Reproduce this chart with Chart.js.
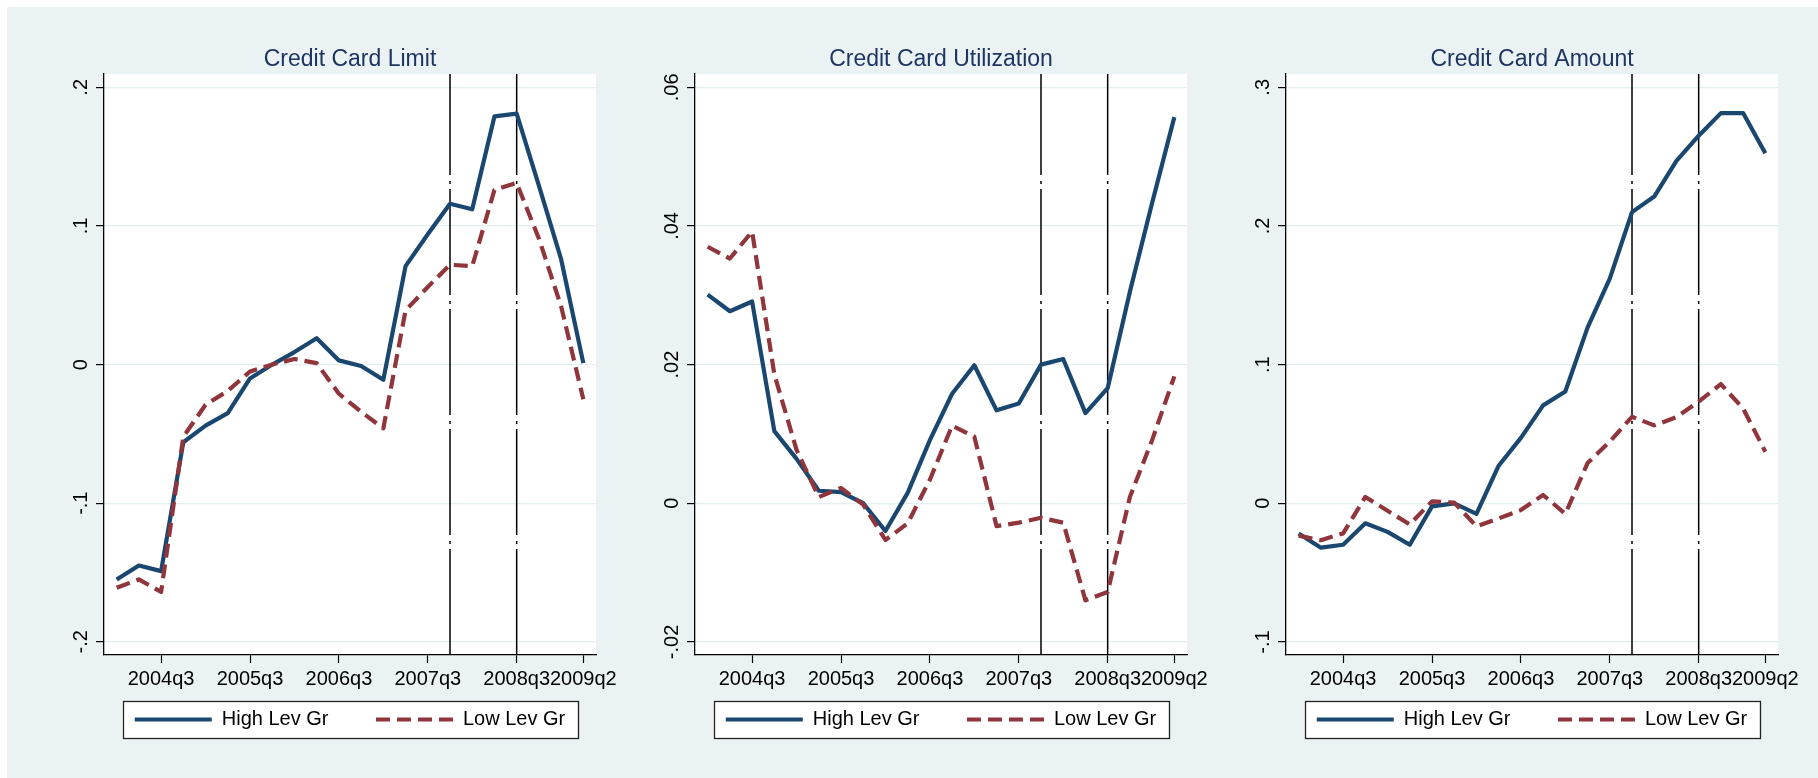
<!DOCTYPE html>
<html>
<head>
<meta charset="utf-8">
<script src="https://cdn.jsdelivr.net/npm/chart.js"></script>
<style>
  html, body { margin: 0; padding: 0; background: #ffffff; width: 1818px; height: 778px; overflow: hidden; }
  #bg { position: absolute; left: 7px; top: 7px; width: 1811px; height: 771px; background: #eaf2f3; }
  canvas { position: absolute; top: 0; }
</style>
</head>
<body>
<div id="bg"></div>
<canvas id="c1" width="580" height="778" style="left:60px"></canvas>
<canvas id="c2" width="580" height="778" style="left:651px"></canvas>
<canvas id="c3" width="580" height="778" style="left:1242px"></canvas>
<script>
// ---------------- data ----------------
const quarters = ['2004q1','2004q2','2004q3','2004q4','2005q1','2005q2','2005q3','2005q4',
                  '2006q1','2006q2','2006q3','2006q4','2007q1','2007q2','2007q3','2007q4',
                  '2008q1','2008q2','2008q3','2008q4','2009q1','2009q2'];
const xTickQuarters = ['2004q3','2005q3','2006q3','2007q3','2008q3','2009q2'];
const eventQuarters = ['2007q4','2008q3'];
const seriesNames = ['High Lev Gr','Low Lev Gr'];
const panelTitles = ['Credit Card Limit','Credit Card Utilization','Credit Card Amount'];

const limitHigh = [-0.155,-0.145,-0.149,-0.056,-0.044,-0.035,-0.010,0.000,0.009,0.019,0.003,-0.001,
                   -0.011,0.071,0.094,0.116,0.112,0.179,0.181,0.129,0.076,0.001];
const limitLow  = [-0.161,-0.155,-0.164,-0.052,-0.029,-0.019,-0.005,0.000,0.004,0.001,-0.021,-0.034,
                   -0.046,0.039,0.056,0.072,0.071,0.126,0.131,0.091,0.042,-0.025];

const utilHigh  = [0.0301,0.0277,0.0291,0.0104,0.0064,0.0018,0.0016,0.0000,-0.0040,0.0015,0.0091,0.0158,
                   0.0199,0.0134,0.0144,0.0200,0.0208,0.0130,0.0166,0.0305,0.0433,0.0557];
const utilLow   = [0.0370,0.0353,0.0392,0.0186,0.0077,0.0009,0.0022,-0.0002,-0.0053,-0.0029,0.0034,0.0112,
                   0.0096,-0.0033,-0.0028,-0.0021,-0.0028,-0.0140,-0.0128,0.0009,0.0091,0.0183];

const amountHigh = [-0.0217,-0.0320,-0.0299,-0.0144,-0.0206,-0.0299,-0.0022,0.0000,-0.0076,0.0271,0.0472,0.0706,
                    0.0806,0.1267,0.1620,0.2100,0.2212,0.2469,0.2651,0.2814,0.2814,0.2524];
const amountLow  = [-0.0233,-0.0266,-0.0217,0.0046,-0.0054,-0.0152,0.0014,0.0005,-0.0166,-0.0109,-0.0049,0.0060,
                    -0.0076,0.0290,0.0445,0.0624,0.0562,0.0621,0.0733,0.0860,0.0684,0.0372];

const limitTicks = [-0.2,-0.1,0,0.1,0.2];
const limitTickLabels = ['-.2','-.1','0','.1','.2'];
const utilTicks = [-0.02,0,0.02,0.04,0.06];
const utilTickLabels = ['-.02','0','.02','.04','.06'];
const amountTicks = [-0.1,0,0.1,0.2,0.3];
const amountTickLabels = ['-.1','0','.1','.2','.3'];

// ---------------- style ----------------
const FONT = '"Liberation Sans", Arial, Helvetica, sans-serif';
const NAVY = '#1a476f';
const MAROON = '#90353b';
const GRID = '#e4edf0';
const LEGEND_PAD = 47.5;
const LEGEND_FONT = 20;
const LEGEND_SHIFT = 30;
const LINE_W = 4.2;

Chart.defaults.font.family = FONT;

function widestLabel(labels) {
  const c = document.createElement('canvas').getContext('2d');
  c.font = '20px ' + FONT;
  return Math.max(...labels.map(l => c.measureText(l).width));
}

const panelDecor = {
  id: 'panelDecor',
  afterLayout(chart) {
    const lg = chart.legend;
    if (lg) { lg.top -= LEGEND_SHIFT; lg.bottom -= LEGEND_SHIFT; }
  },
  beforeDraw(chart) {
    const ctx = chart.ctx, a = chart.chartArea;
    ctx.save();
    ctx.fillStyle = '#ffffff';
    ctx.fillRect(a.left, a.top, a.right - a.left, a.bottom - a.top);
    const lg = chart.legend;
    if (lg) {
      const cx = (a.left + a.right) / 2;
      const cy = lg.top + LEGEND_PAD + LEGEND_FONT / 2;
      ctx.fillRect(cx - 227.5, cy - 18.5, 455, 37);
      ctx.strokeStyle = '#222222';
      ctx.lineWidth = 1.3;
      ctx.strokeRect(Math.round(cx - 227.5) + 0.5, Math.round(cy - 18.5) + 0.5, 455, 37);
    }
    ctx.restore();
  }
};

const defaultLegendLabels = Chart.defaults.plugins.legend.labels.generateLabels;

function makePanel(id, title, high, low, yTicks, yTickLabels, ymin, ymax) {
  const pad = 14.9 - widestLabel(yTickLabels) / 2;
  const events = eventQuarters.map(q => ({
    label: '',
    isEvent: true,
    data: [{x: quarters.indexOf(q), y: ymin}, {x: quarters.indexOf(q), y: ymax}],
    borderColor: '#000000',
    borderWidth: 1.5,
    borderDash: [106, 5, 3, 6],
    pointRadius: 0,
    order: 2
  }));
  return new Chart(document.getElementById(id), {
    type: 'line',
    data: {
      datasets: [
        {label: seriesNames[0], data: high.map((v, i) => ({x: i, y: v})), borderColor: NAVY, backgroundColor: NAVY,
         borderWidth: LINE_W, pointRadius: 0, tension: 0, order: 1, borderJoinStyle: 'round'},
        {label: seriesNames[1], data: low.map((v, i) => ({x: i, y: v})), borderColor: MAROON, backgroundColor: MAROON,
         borderWidth: LINE_W, borderDash: [14, 7], pointRadius: 0, tension: 0, order: 0, borderJoinStyle: 'round'},
        ...events
      ]
    },
    options: {
      responsive: false,
      animation: false,
      events: [],
      layout: {padding: {top: 0, left: 0, right: 0, bottom: 8.5}},
      scales: {
        x: {
          type: 'linear', min: -0.57, max: 21.57,
          afterBuildTicks: s => { s.ticks = xTickQuarters.map(q => ({value: quarters.indexOf(q)})); },
          afterFit: s => { s.height = 37; },
          ticks: {callback: v => quarters[Math.round(v)], autoSkip: false,
                  minRotation: 0, maxRotation: 0,
                  padding: 4, color: '#000000', font: {size: 20}},
          grid: {drawOnChartArea: false, drawTicks: true, tickLength: 8, tickColor: '#000000', tickWidth: 1.2},
          border: {display: true, color: '#000000', width: 1.3}
        },
        y: {
          type: 'linear', min: ymin, max: ymax,
          afterBuildTicks: s => { s.ticks = yTicks.map(v => ({value: v})); },
          afterFit: s => { s.width = 44; },
          ticks: {callback: v => yTickLabels[yTicks.findIndex(t => Math.abs(t - v) < 1e-9)],
                  autoSkip: false, minRotation: 90, maxRotation: 90, crossAlign: 'center',
                  padding: pad, color: '#000000', font: {size: 20}},
          grid: {color: GRID, lineWidth: 1.2, drawTicks: true, tickLength: 8, tickColor: '#000000', tickWidth: 1.2},
          border: {display: true, color: '#000000', width: 1.3}
        },
        yR: {
          type: 'linear', position: 'right', display: true,
          grid: {display: false}, ticks: {display: false}, border: {display: false},
          afterFit: s => { s.width = 44; }
        }
      },
      plugins: {
        title: {display: true, text: title, color: '#1f3561',
                font: {size: 23, weight: 'normal'}, padding: {top: 45.7, bottom: 0.7}},
        legend: {
          display: true, position: 'bottom',
          labels: {
            usePointStyle: true, pointStyle: 'line', pointStyleWidth: 77,
            padding: LEGEND_PAD, color: '#000000', font: {size: LEGEND_FONT},
            generateLabels: chart => defaultLegendLabels(chart).map(item => {
              const ds = chart.data.datasets[item.datasetIndex];
              item.lineDash = ds.borderDash || [];
              item.lineWidth = ds.borderWidth;
              item.strokeStyle = ds.borderColor;
              item.lineCap = 'butt';
              return item;
            }),
            filter: (item, data) => !data.datasets[item.datasetIndex].isEvent,
            sort: (a, b) => a.datasetIndex - b.datasetIndex
          }
        },
        tooltip: {enabled: false}
      }
    },
    plugins: [panelDecor]
  });
}

makePanel('c1', panelTitles[0], limitHigh, limitLow, limitTicks, limitTickLabels, -0.2095, 0.2096);
makePanel('c2', panelTitles[1], utilHigh, utilLow, utilTicks, utilTickLabels, -0.02189, 0.06192);
makePanel('c3', panelTitles[2], amountHigh, amountLow, amountTicks, amountTickLabels, -0.1094, 0.3096);
</script>
</body>
</html>
